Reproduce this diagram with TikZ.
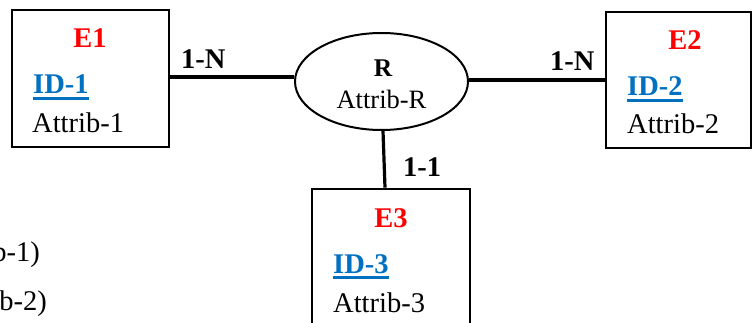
\documentclass[tikz,border=0pt]{standalone}
\usepackage{fontspec}
\setmainfont{Liberation Serif}
\usetikzlibrary{shapes.geometric}
\definecolor{entred}{HTML}{FF0000}
\definecolor{keyblue}{HTML}{0070C0}
\tikzset{
  entbox/.style={draw, line width=2.6pt, rectangle, inner sep=0pt},
  relell/.style={draw, line width=2pt, ellipse, inner sep=0pt},
  conn/.style={line width=3.2pt},
  txt/.style={inner sep=0pt, font=\fontsize{28.5}{34}\selectfont},
  etitle/.style={txt, text=entred, font=\fontsize{28.5}{34}\selectfont\bfseries, anchor=base},
  keytxt/.style={txt, text=keyblue, font=\fontsize{28.5}{34}\selectfont\bfseries, anchor=base west},
  attr/.style={txt, anchor=base west},
  card/.style={txt, font=\fontsize{28.5}{34}\selectfont\bfseries, anchor=base west},
  uline/.style={keyblue, line width=2.8pt},
  rtxt/.style={inner sep=0pt, font=\fontsize{26.5}{31}\selectfont, anchor=base}
}
\begin{document}
\begin{tikzpicture}[x=1pt,y=-1pt]
\useasboundingbox (0,0) rectangle (752,323);
\clip (0,0) rectangle (752,323);
\fill[white] (0,0) rectangle (752,323);

% entity boxes
\node[entbox, minimum width=157pt, minimum height=137pt] (E1) at (90.5,78.5) {};
\node[entbox, minimum width=145pt, minimum height=136pt] (E2) at (678.5,80) {};
\node[entbox, minimum width=158pt, minimum height=170pt] (E3) at (391,274) {};
\node[relell, minimum width=173pt, minimum height=97pt] (R) at (381.5,81.5) {};

% E1 contents
\node[etitle] (e1t) at (90,48) {E1};
\node[keytxt] (e1k) at (33,94) {ID-1};
\draw[uline] ([yshift=-4.5pt]e1k.base west) -- ([yshift=-4.5pt]e1k.base east);
\node[attr] (e1a) at (32,133) {Attrib-1};

% E2 contents
\node[etitle] (e2t) at (685,50) {E2};
\node[keytxt] (e2k) at (627,96) {ID-2};
\draw[uline] ([yshift=-4.5pt]e2k.base west) -- ([yshift=-4.5pt]e2k.base east);
\node[attr] (e2a) at (627,134) {Attrib-2};

% E3 contents
\node[etitle] (e3t) at (391,227) {E3};
\node[keytxt] (e3k) at (333,273) {ID-3};
\draw[uline] ([yshift=-4.5pt]e3k.base west) -- ([yshift=-4.5pt]e3k.base east);
\node[attr] (e3a) at (333,312) {Attrib-3};

% relationship contents
\node[rtxt, font=\fontsize{25.5}{30}\selectfont\bfseries] (rt) at (383,77) {R};
\node[rtxt] (ra) at (381.5,109) {Attrib-R};

% connectors
\draw[conn] (E1.east |- 0,77) -- (R.west |- 0,77);
\draw[conn] (R.east |- E2.west) -- (E2.west);
\draw[conn] ([xshift=1.5pt]R.south) -- ([xshift=-6pt]E3.north);

% cardinalities
\node[card] (c1) at (181,69) {1-N};
\node[card] (c2) at (550,71) {1-N};
\node[card] (c3) at (403,177) {1-1};

% text cut by the left edge, as in the reference
\node[txt, anchor=base east] (b1) at (40,261) {b-1)};
\node[txt, anchor=base east] (b2) at (47,310) {b-2)};
\end{tikzpicture}
\end{document}
